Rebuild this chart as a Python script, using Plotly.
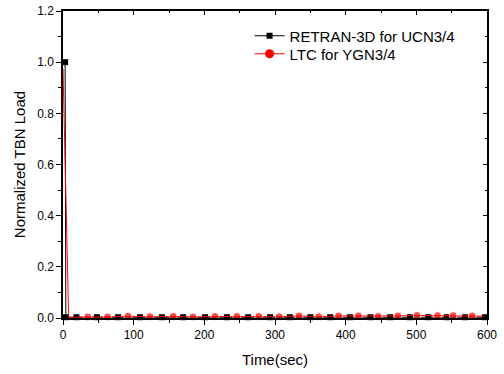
import plotly.graph_objects as go

# RETRAN-3D for UCN3/4 (black squares)
retran_t = [3, 4, 19, 48, 78, 109, 140, 170, 201, 232, 262, 293, 321, 350, 378, 406, 435, 463, 491, 517, 543, 569, 597]
retran_y = [1.0, 0.003, 0.003, 0.003, 0.003, 0.003, 0.003, 0.003, 0.003, 0.003, 0.003, 0.003, 0.003, 0.003,
            0.003, 0.003, 0.003, 0.003, 0.003, 0.003, 0.003, 0.003, 0.003]

# LTC for YGN3/4 (red circles)
ltc_t = [0, 8, 35, 63, 92, 123, 156, 184, 215, 246, 277, 306, 334, 362, 390, 418, 446, 474, 501, 530, 552, 579, 595]
ltc_y = [0.975, 0.003, 0.004, 0.004, 0.007, 0.005, 0.006, 0.004, 0.006, 0.006, 0.006, 0.005, 0.008, 0.005,
         0.008, 0.008, 0.006, 0.008, 0.010, 0.009, 0.009, 0.008, 0.007]

x_ticks = [0, 100, 200, 300, 400, 500, 600]
y_ticks = [0.0, 0.2, 0.4, 0.6, 0.8, 1.0, 1.2]

font = "Liberation Sans, Arial, sans-serif"

ltc_sizes = [0, 0] + [8] * (len(ltc_t) - 3) + [0]

fig = go.Figure()
fig.add_trace(go.Scatter(
    x=retran_t, y=retran_y, mode="lines+markers", name="RETRAN-3D for UCN3/4",
    line=dict(color="black", width=1),
    marker=dict(symbol="square", size=6, color="black"),
    cliponaxis=False, legend="legend",
))
fig.add_trace(go.Scatter(
    x=ltc_t, y=ltc_y, mode="lines+markers", name="LTC for YGN3/4",
    line=dict(color="#ff0000", width=1),
    marker=dict(symbol="circle", size=ltc_sizes, color="#ff0000"),
    cliponaxis=False, showlegend=False,
))
fig.add_trace(go.Scatter(
    x=[None], y=[None], mode="lines+markers", name="LTC for YGN3/4",
    line=dict(color="#ff0000", width=1),
    marker=dict(symbol="circle", size=9, color="#ff0000"),
    legend="legend2",
))

axis_common = dict(
    showgrid=False, zeroline=False, showline=True, linecolor="black", linewidth=1.5,
    ticks="outside", tickcolor="black", tickwidth=1, ticklen=5, automargin=False,
    tickfont=dict(family=font, size=12, color="black"),
)
legend_common = dict(xanchor="left", yanchor="middle", bgcolor="rgba(0,0,0,0)",
                     font=dict(family=font, size=15, color="black"), itemwidth=30)
fig.update_layout(
    width=504, height=374,
    margin=dict(l=63, r=17, t=11, b=56),
    paper_bgcolor="white", plot_bgcolor="white",
    font=dict(family=font, color="black"),
    showlegend=True,
    legend=dict(x=0.44, y=(318 - 36) / 307, **legend_common),
    legend2=dict(x=0.44, y=(318 - 54) / 307, **legend_common),
    xaxis=dict(range=[0, 600], tickvals=x_ticks, ticktext=[str(v) for v in x_ticks],
               title=dict(text="Time(sec)", font=dict(family=font, size=15), standoff=13),
               minor=dict(dtick=50, ticks="outside", ticklen=3, tickcolor="black"),
               **axis_common),
    yaxis=dict(range=[0, 1.2], tickvals=y_ticks, ticktext=[f"{v:.1f}" for v in y_ticks],
               title=dict(text="Normalized TBN Load", font=dict(family=font, size=15), standoff=8),
               minor=dict(dtick=0.1, ticks="outside", ticklen=3, tickcolor="black"),
               **axis_common),
    xaxis2=dict(range=[0, 600], overlaying="x", side="top", showline=True, linecolor="black", linewidth=1.5,
                showgrid=False, zeroline=False, ticks="inside", ticklen=4, tickcolor="black",
                tickvals=x_ticks, showticklabels=False, automargin=False,
                minor=dict(dtick=50, ticks="inside", ticklen=2, tickcolor="black")),
    yaxis2=dict(range=[0, 1.2], overlaying="y", side="right", showline=True, linecolor="black", linewidth=1.5,
                showgrid=False, zeroline=False, ticks="inside", ticklen=4, tickcolor="black",
                tickvals=y_ticks, showticklabels=False, automargin=False,
                minor=dict(dtick=0.1, ticks="inside", ticklen=2, tickcolor="black")),
)
fig.add_trace(go.Scatter(x=[None], y=[None], xaxis="x2", yaxis="y2", showlegend=False, hoverinfo="skip"))

fig.write_html("out.html")
